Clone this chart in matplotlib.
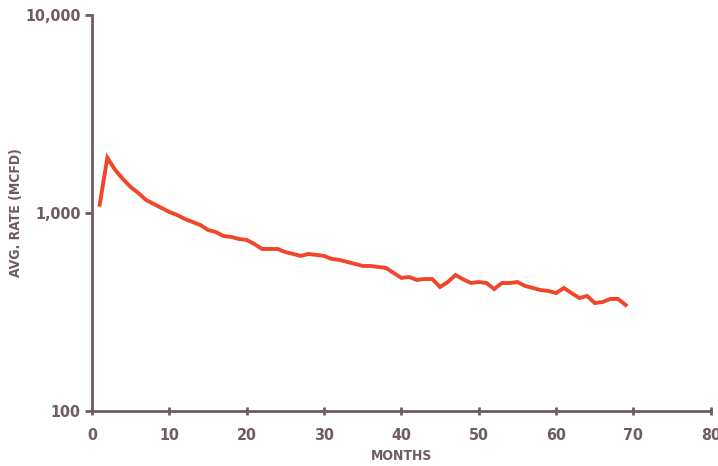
import matplotlib
matplotlib.use('Agg')
import matplotlib.pyplot as plt
from matplotlib.ticker import FixedLocator, FuncFormatter, NullLocator

months = list(range(1, 70))
rate = [1100, 1900, 1650, 1485, 1353, 1262, 1163, 1110, 1060, 1012,
        977, 933, 901, 870, 821, 802, 765, 757, 739, 731,
        697, 658, 658, 658, 635, 621, 607, 621, 614, 607,
        586, 579, 566, 553, 540, 540, 534, 528, 498, 470,
        475, 459, 464, 464, 423, 448, 486, 462, 443, 448,
        443, 413, 443, 443, 448, 428, 418, 408, 404, 394,
        418, 394, 372, 381, 351, 355, 368, 368, 343]

axis_col = '#6e5c63'
line_col = '#f0472a'

plt.rcParams['font.family'] = ['DejaVu Sans']
plt.rcParams['font.stretch'] = 'condensed'

fig = plt.figure(figsize=(7.18, 4.66), dpi=100)
ax = fig.add_axes([0.128, 0.118, 0.862, 0.850])

ax.plot(months, rate, color=line_col, lw=2.8, solid_joinstyle='miter')

ax.set_yscale('log')
ax.set_ylim(100, 10000)
ax.set_xlim(0, 80)
ax.yaxis.set_major_locator(FixedLocator([100, 1000, 10000]))
ax.yaxis.set_minor_locator(NullLocator())
ax.yaxis.set_major_formatter(FuncFormatter(lambda v, p: f'{int(v):,}'))
ax.set_xticks(range(0, 81, 10))

for s in ['top', 'right']:
    ax.spines[s].set_visible(False)
for s in ['left', 'bottom']:
    ax.spines[s].set_color(axis_col)
    ax.spines[s].set_linewidth(2)

ax.tick_params(axis='y', direction='out', length=5, width=2, color=axis_col,
               labelcolor=axis_col, labelsize=11.5, pad=3)
ax.tick_params(axis='x', direction='inout', length=6, width=2, color=axis_col,
               labelcolor=axis_col, labelsize=11.5, pad=9)
for t in ax.get_xticklabels() + ax.get_yticklabels():
    t.set_fontweight('bold')

ax.set_xlabel('MONTHS', color=axis_col, fontsize=10, fontweight='bold')
ax.set_ylabel('AVG. RATE (MCFD)', color=axis_col, fontsize=10, fontweight='bold')
ax.xaxis.set_label_coords(0.5, -0.095)
ax.yaxis.set_label_coords(-0.112, 0.5)

fig.savefig('out.png', dpi=100)
